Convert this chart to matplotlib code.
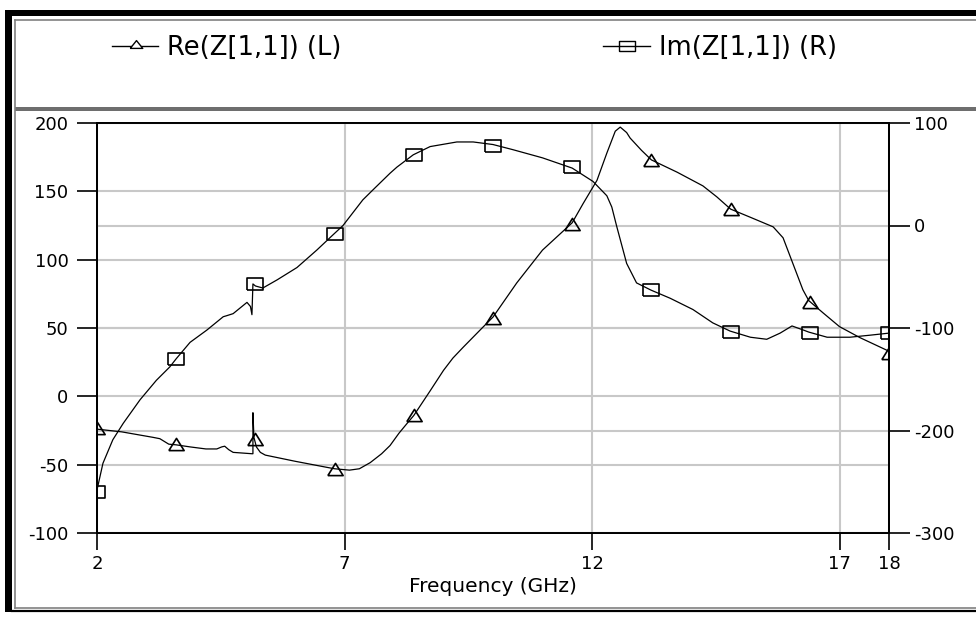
import matplotlib
matplotlib.use("Agg")
import matplotlib.pyplot as plt
from matplotlib.lines import Line2D
from matplotlib.patches import Rectangle

plt.rcParams["axes.unicode_minus"] = False

# Re(Z[1,1]) trace, left axis (ohm)
re_freq = [2.00, 2.50, 3.13, 3.27, 3.45, 3.60, 3.88, 4.20, 4.42, 4.52, 4.58, 4.66,
           4.75, 5.13, 5.15, 5.15, 5.17, 5.22, 5.30, 5.40, 6.00, 6.65, 6.80, 7.10,
           7.30, 7.52, 7.75, 7.92, 8.10, 8.26, 8.40, 8.73, 9.00, 9.19, 9.40, 9.78,
           10.00, 10.48, 11.00, 11.30, 11.60, 11.82, 12.10, 12.30, 12.47, 12.57,
           12.70, 12.77, 13.00, 13.20, 13.72, 14.24, 14.52, 14.80, 15.20, 15.66,
           15.86, 16.06, 16.26, 16.38, 16.67, 17.00, 17.41, 18.00]
re_val = [-24, -26, -30, -31, -35, -35.5, -37, -38.5, -38.5, -37, -36.5, -39,
          -41, -42, -42, -12, -30, -37, -41, -43, -47.5, -52, -53, -54,
          -53, -48.5, -42, -36, -27, -20, -14, 4, 19, 28, 36, 50,
          58, 83, 107, 117, 127, 141, 158, 178, 194, 197,
          193, 189, 180, 173, 164, 154, 146, 137, 131, 124,
          116, 97, 78, 70, 61, 51, 43, 33]

# Im(Z[1,1]) trace, right axis (ohm)
im_freq = [2.00, 2.06, 2.12, 2.32, 2.53, 2.87, 3.20, 3.47, 3.60, 3.88, 4.22, 4.55,
           4.62, 4.75, 5.03, 5.10, 5.13, 5.15, 5.20, 5.35, 5.64, 6.04, 6.44, 6.77,
           6.97, 7.37, 7.58, 7.92, 8.06, 8.39, 8.73, 9.27, 9.60, 10.00, 10.40,
           11.00, 11.60, 12.02, 12.30, 12.40, 12.50, 12.70, 12.90, 13.19, 13.58,
           14.04, 14.44, 14.79, 15.20, 15.53, 15.80, 16.04, 16.27, 16.38, 16.75,
           17.21, 17.62, 18.00]
im_val = [-258, -245, -232, -209, -193, -170, -151, -138, -130, -114, -102, -89,
          -88, -86, -75, -79, -87, -57, -59, -61, -53, -41, -24, -9,
          0, 25, 35, 51, 57, 69, 77, 81.5, 81.5, 79, 74,
          66, 56, 43, 29, 18, -1, -37, -56, -63, -71,
          -82, -95, -103, -109, -111, -105, -98, -102, -104, -109,
          -109, -107, -105]

# marker positions
mark_freq = [2.0, 3.6, 5.2, 6.8, 8.4, 10.0, 11.6, 13.2, 14.8, 16.4, 18.0]
re_mark = [-23, -35, -31, -53, -14, 57, 126, 173, 137, 69, 32]
im_mark = [-260, -130, -57, -8, 69, 78, 57, -63, -104, -105, -105]

left_ticks = [-100, -50, 0, 50, 100, 150, 200]
right_ticks = [-300, -200, -100, 0, 100]
x_ticks = [2, 7, 12, 17, 18]

W, H = 976, 617
fig = plt.figure(figsize=(W / 100, H / 100), dpi=100)
fig.patch.set_facecolor("white")


def fx(px):
    return px / W


def fy(py):
    return 1 - py / H


# wide-ish markers (the original screenshot is stretched horizontally)
tri = [(-1.25, -1), (1.25, -1), (0, 1), (-1.25, -1)]
sq = [(-1.25, -1), (1.25, -1), (1.25, 1), (-1.25, 1), (-1.25, -1)]

pos = [fx(97), fy(533), fx(889) - fx(97), fy(123) - fy(533)]
ax = fig.add_axes(pos)
ax2 = ax.twinx()
ax3 = ax.twinx()
ax.set_zorder(1)
ax2.set_zorder(2)
ax3.set_zorder(3)
ax2.patch.set_visible(False)
ax3.patch.set_visible(False)

grid_c = "#c8c8c8"
ax.set_xlim(2, 18)
ax.set_ylim(-100, 200)
ax.set_yticks(left_ticks)
ax.set_xticks(x_ticks)
ax.set_xticklabels([str(t) for t in x_ticks])
ax.grid(True, color=grid_c, lw=1.5)
ax.set_axisbelow(True)

ax2.set_ylim(-300, 100)
ax2.set_yticks(right_ticks)
ax2.grid(True, axis="y", color=grid_c, lw=1.5)
ax2.set_axisbelow(True)

ax3.set_ylim(-100, 200)
ax3.axis("off")

# Im curve on right scale, Re curve on top layer
ax2.plot(im_freq, im_val, color="black", lw=0.9)
ax2.plot(mark_freq, im_mark, ls="none", marker=sq, ms=11, mfc="none",
         mec="black", mew=1.2)
ax3.plot(re_freq, re_val, color="black", lw=0.9)
ax3.plot(mark_freq, re_mark, ls="none", marker=tri, ms=11, mfc="none",
         mec="black", mew=1.2)

for a in (ax, ax2):
    for s in a.spines.values():
        s.set_color("black")
        s.set_linewidth(1.4)

ax.tick_params(axis="y", direction="out", length=14.5, width=1.2, pad=6,
               labelsize=13, colors="black")
ax.tick_params(axis="x", direction="out", length=12, width=1.2, pad=4,
               labelsize=13, colors="black")
ax2.tick_params(axis="y", direction="out", length=15, width=1.2, pad=3,
                labelsize=13, colors="black")
ax.set_xlabel("Frequency (GHz)", fontsize=14.5, labelpad=3)

# window frame
fig.add_artist(Rectangle((fx(5), fy(16)), 1, fy(10) - fy(16), transform=fig.transFigure,
                         color="black", lw=0))
fig.add_artist(Rectangle((fx(5), fy(612)), fx(12) - fx(5), fy(10) - fy(612),
                         transform=fig.transFigure, color="black", lw=0))
fig.add_artist(Line2D([fx(15), 1], [fy(20), fy(20)], transform=fig.transFigure,
                      color="#808080", lw=1.2))
fig.add_artist(Line2D([fx(15), fx(15)], [fy(20), fy(608)], transform=fig.transFigure,
                      color="#808080", lw=1.2))
fig.add_artist(Rectangle((fx(15), fy(111)), 1, fy(107) - fy(111), transform=fig.transFigure,
                         color="#6e6e6e", lw=0))
fig.add_artist(Line2D([fx(15), 1], [fy(608), fy(608)], transform=fig.transFigure,
                      color="#808080", lw=1.2))
fig.add_artist(Line2D([fx(12), 1], [fy(611), fy(611)], transform=fig.transFigure,
                      color="black", lw=1.6))

# legend entries
ly = fy(46)
fig.add_artist(Line2D([fx(112), fx(158)], [ly, ly], transform=fig.transFigure,
                      color="black", lw=1.0))
fig.add_artist(Line2D([fx(136)], [ly + 0.004], transform=fig.transFigure, ls="none",
                      marker=[(-1.6, -1), (1.6, -1), (0, 1), (-1.6, -1)], ms=9,
                      mfc="white", mec="black", mew=1.0))
fig.text(fx(167), fy(48), "Re(Z[1,1]) (L)", fontsize=18.5, va="center", ha="left")

fig.add_artist(Line2D([fx(603), fx(650)], [ly, ly], transform=fig.transFigure,
                      color="black", lw=1.0))
fig.add_artist(Line2D([fx(627)], [ly], transform=fig.transFigure, ls="none",
                      marker=[(-1.5, -1), (1.5, -1), (1.5, 1), (-1.5, 1), (-1.5, -1)], ms=11,
                      mfc="none", mec="black", mew=1.0))
fig.text(fx(659), fy(48), "Im(Z[1,1]) (R)", fontsize=18.5, va="center", ha="left")

fig.savefig("out.png", dpi=100, facecolor="white")
